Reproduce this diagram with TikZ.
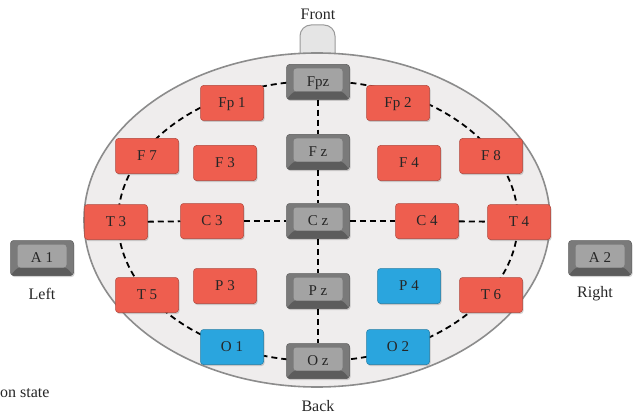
\documentclass[tikz,border=0pt]{standalone}
\usepackage{fontspec}
\setmainfont{Liberation Serif}
\usetikzlibrary{shadows}
\definecolor{elred}{HTML}{EE5E4F}
\definecolor{elblue}{HTML}{2AA5DE}
\definecolor{elgray}{HTML}{7A7A7A}
\definecolor{elgraylt}{HTML}{A3A3A3}
\definecolor{elgraydk}{HTML}{5C5C5C}
\definecolor{headfill}{HTML}{EFEDED}
\tikzset{
  elec/.style={rounded corners=3pt, minimum width=63pt, minimum height=35pt,
    inner sep=0pt, font=\fontsize{15}{15}\selectfont, text=black!85,
    text height=8.5pt, text depth=0pt, line width=0.5pt,
    drop shadow={shadow xshift=1pt, shadow yshift=-1.5pt, opacity=0.35}},
  red/.style={elec, fill=elred, draw=elred!75!black},
  blue/.style={elec, fill=elblue, draw=elblue!75!black},
  grey/.style={elec, fill=elgray, draw=elgraydk,
    path picture={
      \fill[elgraydk] (path picture bounding box.south west)
        -- (path picture bounding box.south east)
        -- ([xshift=-7pt,yshift=8pt]path picture bounding box.south east)
        -- ([xshift=7pt,yshift=8pt]path picture bounding box.south west) -- cycle;
      \fill[elgraylt] ([xshift=7pt,yshift=-4pt]path picture bounding box.north west)
        rectangle ([xshift=-7pt,yshift=8pt]path picture bounding box.south east);}},
  lbl/.style={font=\fontsize{16}{16}\selectfont, text=black!85, inner sep=0pt},
  ring/.style={dash pattern=on 6pt off 4pt, line width=1.8pt}
}
\begin{document}
\begin{tikzpicture}[x=1pt,y=-1pt]
      \useasboundingbox (0,0) rectangle (637,417);
      % head
      \filldraw[fill=black!10, draw=black!40, line width=1pt, rounded corners=11pt]
        (300,70) rectangle (335,25);
      \filldraw[fill=headfill, draw=black!45, line width=1.6pt]
        (317,220) ellipse [x radius=233, y radius=167];
      \coordinate (mid) at (318,221);
      \draw[ring] (mid) ellipse [x radius=200, y radius=140];
      \draw
        (318,82) node[grey] (Fpz){Fpz}
        (232,103) node[red] (Fp1){Fp 1}
        (398,103) node[red] (Fp2){Fp 2}
        (147,156) node[red] (F7){F 7}
        (225,163) node[red] (F3){F 3}
        (318,152) node[grey] (Fz){F z}
        (409,163) node[red] (F4){F 4}
        (491,156) node[red] (F8){F 8}
        (116,222) node[red] (T3){T 3}
        (212,221) node[red] (C3){C 3}
        (318,221) node[grey] (Cz){C z}
        (427,221) node[red] (C4){C 4}
        (519,222) node[red] (T4){T 4}
        (147,295) node[red] (T5){T 5}
        (225,286) node[red] (P3){P 3}
        (318,291) node[grey] (Pz){P z}
        (409,286) node[blue] (P4){P 4}
        (491,295) node[red] (T6){T 6}
        (232,347) node[blue] (O1){O 1}
        (318,361) node[grey] (Oz){O z}
        (398,347) node[blue] (O2){O 2}
        (42,258) node[grey] (A1){A 1}
        (600,258) node[grey] (A2){A 2};
      \draw
        (318,14) node[lbl] (front){Front}
        (318,406) node[lbl] (back){Back}
        (42,294) node[lbl] (left){Left}
        (595,294) node[lbl] (right){Right}
        (0,393) node[lbl, anchor=west] (state){on state};
      \begin{scope}[ring]
        \draw (T3) to (C3);
        \draw (C3) to (Cz);
        \draw (Cz) to (C4);
        \draw (C4) to (T4);
        \draw (Fpz) to (Fz);
        \draw (Fz) to (Cz);
        \draw (Cz) to (Pz);
        \draw (Pz) to (Oz);
      \end{scope}
    \end{tikzpicture}
\end{document}
